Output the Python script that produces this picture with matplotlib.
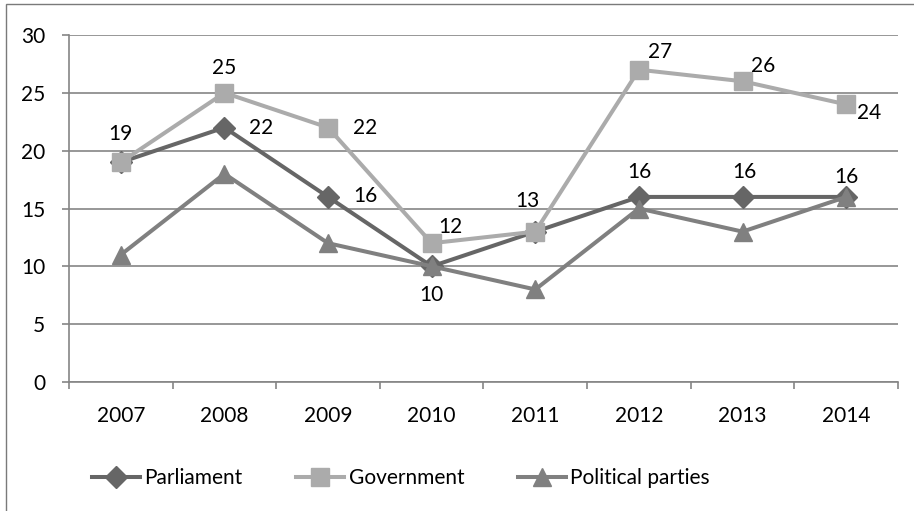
import matplotlib.pyplot as plt
from matplotlib.patches import Rectangle

plt.rcParams["font.family"] = ["Lato", "DejaVu Sans"]
plt.rcParams["font.size"] = 15

years = ["2007", "2008", "2009", "2010", "2011", "2012", "2013", "2014"]
parliament = [19, 22, 16, 10, 13, 16, 16, 16]
government = [19, 25, 22, 12, 13, 27, 26, 24]
parties = [11, 18, 12, 10, 8, 15, 13, 16]

# which points carry a value label, and where the label sits (pixel offsets)
gov_labels = [(0, 0, 28), (1, 0, 25), (2, 37, 0), (3, 19, 16), (4, -8, 31),
              (5, 21, 18), (6, 21, 15), (7, 23, -9)]
parl_labels = [(1, 37, 0), (2, 37, 1), (3, 0, -29), (5, 0, 25), (6, 2, 25),
               (7, 0, 20)]

fig = plt.figure(figsize=(9.14, 5.11), dpi=100)
ax = fig.add_axes([69 / 914, 1 - 382 / 511, (898 - 69) / 914, (382 - 35) / 511])

x = list(range(len(years)))
ax.plot(x, parliament, color="#666666", lw=2.9, marker="D", ms=11,
        label="Parliament", zorder=3)
ax.plot(x, government, color="#ababab", lw=2.9, marker="s", ms=12.5,
        label="Government", zorder=4)
ax.plot(x, parties, color="#808080", lw=2.9, marker="^", ms=13,
        label="Political parties", zorder=5)

for i, dx, dy in gov_labels:
    ax.annotate(str(government[i]), (x[i], government[i]), xytext=(dx, dy),
                textcoords="offset pixels", ha="center", va="center", zorder=6)
for i, dx, dy in parl_labels:
    ax.annotate(str(parliament[i]), (x[i], parliament[i]), xytext=(dx, dy),
                textcoords="offset pixels", ha="center", va="center", zorder=6)

ax.set_xlim(-0.5, len(years) - 0.5)
ax.set_ylim(0, 30)
ax.set_yticks(range(0, 31, 5))
ax.yaxis.grid(True, color="#858585", lw=1.2)
ax.set_axisbelow(True)

# ticks between categories, labels centred on them
ax.set_xticks([i - 0.5 for i in range(len(years) + 1)])
ax.set_xticklabels([])
ax.set_xticks(x, minor=True)
ax.set_xticklabels(years, minor=True)
ax.tick_params(axis="x", which="major", length=5, width=1.2, color="#858585")
ax.tick_params(axis="x", which="minor", length=0, pad=17)
ax.tick_params(axis="y", length=5, width=1.2, color="#858585", pad=12)

for side in ["top", "right"]:
    ax.spines[side].set_visible(False)
ax.spines["left"].set_color("#858585")
ax.spines["bottom"].set_color("#858585")
ax.spines["left"].set_linewidth(1.2)
ax.spines["bottom"].set_linewidth(1.2)

fig.legend(loc="center", bbox_to_anchor=(401 / 914, 1 - 478 / 511), ncol=3,
           frameon=False, numpoints=1, handlelength=2.3, handletextpad=0.2,
           columnspacing=2.6)

fig.patches.append(Rectangle((6 / 914, -0.05), 1.2, 1 - 4 / 511 + 0.05,
                             transform=fig.transFigure, fill=False,
                             edgecolor="#7a7a7a", lw=1))

fig.savefig("out.png", dpi=100)
